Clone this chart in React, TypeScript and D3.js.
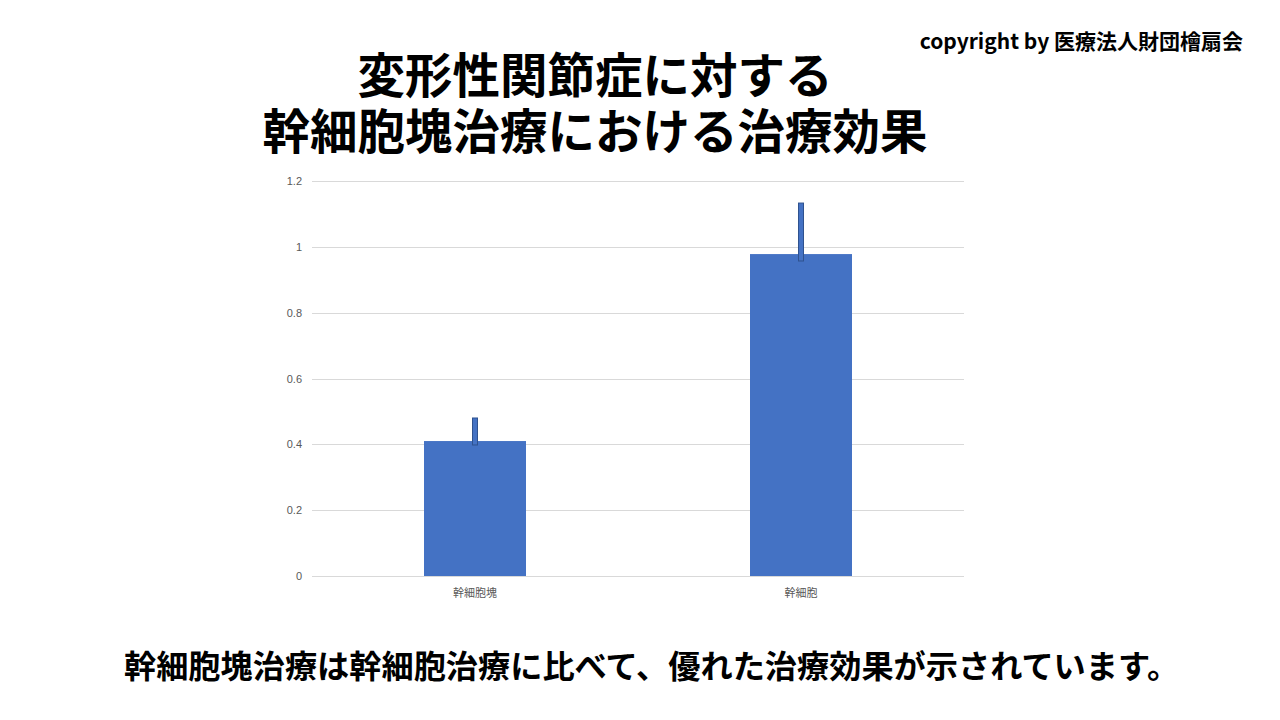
import React from "react";
import * as d3 from "d3";

const categories = ["幹細胞塊", "幹細胞"];
const values = [0.41, 0.978];
const errLow = [0.398, 0.957];
const errHigh = [0.48, 1.133];
const yTicks = [0, 0.2, 0.4, 0.6, 0.8, 1, 1.2];
const titleLines = ["変形性関節症に対する", "幹細胞塊治療における治療効果"];
const copyright = "copyright by 医療法人財団檜扇会";
const caption = "幹細胞塊治療は幹細胞治療に比べて、優れた治療効果が示されています。";

export default function App() {
  const W = 1280, H = 720;
  const left = 312, right = 964, top = 181, bottom = 576;
  const y = d3.scaleLinear().domain([0, 1.2]).range([bottom, top]);
  const x = d3.scaleBand().domain(categories).range([left, right]).paddingInner(0).paddingOuter(0);
  const barW = 102;
  const errW = 5;
  const font = "'Noto Sans CJK JP', 'Noto Sans', sans-serif";
  return (
    <svg width={W} height={H} style={{ position: "absolute", left: 0, top: 0, background: "#fff" }} fontFamily={font}>
      <rect x={0} y={0} width={W} height={H} fill="#fff" />
      <text x={1243} y={49} textAnchor="end" fontSize={21} fontWeight="bold" fill="#000">{copyright}</text>
      <text x={595} y={93} textAnchor="middle" fontSize={47.5} fontWeight="bold" fill="#000">
        {titleLines.map((t, i) => (
          <tspan key={i} x={595} dy={i === 0 ? 0 : 56}>{t}</tspan>
        ))}
      </text>
      {yTicks.map((t) => (
        <g key={t}>
          <line x1={left} x2={right} y1={Math.round(y(t)) + 0.5} y2={Math.round(y(t)) + 0.5} stroke="#d9d9d9" strokeWidth={1} />
          <text x={302} y={y(t) + 4} textAnchor="end" fontSize={11} fill="#595959" fontFamily="'Liberation Sans', Arial, sans-serif">{String(t)}</text>
        </g>
      ))}
      {categories.map((c, i) => {
        const cx = (x(c) as number) + x.bandwidth() / 2;
        return (
          <g key={c}>
            <rect x={cx - barW / 2} y={y(values[i])} width={barW} height={bottom - y(values[i])} fill="#4472c4" />
            <rect x={cx - errW / 2} y={y(errHigh[i])} width={errW} height={y(errLow[i]) - y(errHigh[i])} fill="#4472c4" stroke="#2f528f" strokeWidth={1} />
            <text x={cx} y={597} textAnchor="middle" fontSize={11} fill="#595959">{c}</text>
          </g>
        );
      })}
      <text x={124} y={678} textAnchor="start" fontSize={32.2} fontWeight="bold" fill="#000">{caption}</text>
    </svg>
  );
}
